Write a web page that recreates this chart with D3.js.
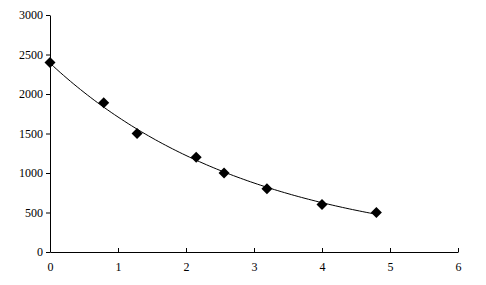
<!DOCTYPE html>
<meta charset="utf-8">
<style>
body { margin: 0; background: #fff; }
.axis path, .axis line { stroke: #000; }
</style>
<svg width="486" height="285"></svg>
<script src="https://d3js.org/d3.v7.min.js"></script>
<script>
// measured points
var xs = [0, 0.79, 1.28, 2.15, 2.56, 3.19, 4.0, 4.8];
var ys = [2400, 1890, 1500, 1200, 1000, 800, 600, 500];
var xTicks = [0, 1, 2, 3, 4, 5, 6];
var yTicks = [0, 500, 1000, 1500, 2000, 2500, 3000];

var svg = d3.select("svg");

var x = d3.scaleLinear().domain([0, 6]).range([50, 458]);
var y = d3.scaleLinear().domain([0, 3000]).range([252, 15]);

// exponential trendline, least squares on ln(y)
var n = xs.length, sx = 0, sy = 0, sxx = 0, sxy = 0;
for (var i = 0; i < n; i++) {
  var ly = Math.log(ys[i]);
  sx += xs[i]; sy += ly; sxx += xs[i] * xs[i]; sxy += xs[i] * ly;
}
var b = (n * sxy - sx * sy) / (n * sxx - sx * sx),
    a = Math.exp((sy - b * sx) / n);

svg.append("g")
    .attr("class", "axis")
    .attr("transform", "translate(0," + y(0) + ")")
    .call(d3.axisBottom(x).tickValues(xTicks).tickFormat(d3.format("d"))
      .tickSizeInner(-4).tickSizeOuter(0).tickPadding(10));

svg.append("g")
    .attr("class", "axis")
    .attr("transform", "translate(" + x(0) + ",0)")
    .call(d3.axisLeft(y).tickValues(yTicks).tickFormat(d3.format("d"))
      .tickSizeInner(4).tickSizeOuter(0).tickPadding(3));

svg.selectAll(".axis")
    .attr("font-family", "'Liberation Serif', 'Times New Roman', serif")
    .attr("font-size", 12);
svg.selectAll(".axis text").attr("fill", "#000");

var fit = d3.range(0, 4.8001, 0.05).map(function(t) { return [t, a * Math.exp(b * t)]; });

svg.append("path")
    .datum(fit)
    .attr("fill", "none")
    .attr("stroke", "#000")
    .attr("stroke-width", 1)
    .attr("d", d3.line().x(function(d) { return x(d[0]); }).y(function(d) { return y(d[1]); }));

svg.selectAll(".pt")
    .data(xs)
    .enter().append("path")
      .attr("class", "pt")
      .attr("transform", function(d, i) { return "translate(" + x(d) + "," + y(ys[i]) + ")"; })
      .attr("d", "M0,-5.5L5.5,0L0,5.5L-5.5,0Z")
      .attr("fill", "#000");
</script>
